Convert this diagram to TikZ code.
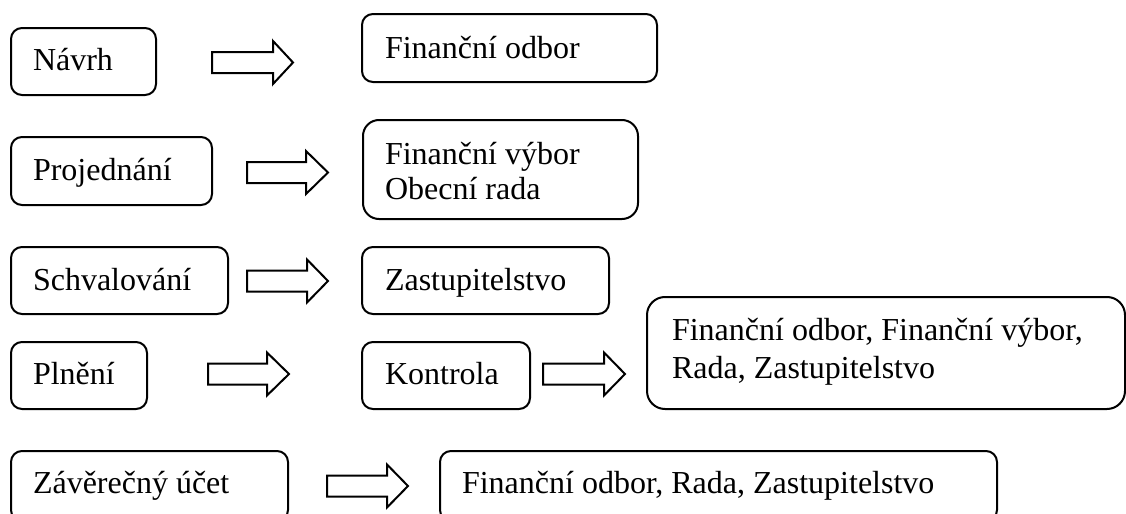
\documentclass[tikz,border=0pt]{standalone}
\usepackage{fontspec}
\setmainfont{Liberation Serif}
\begin{document}
\begin{tikzpicture}[x=0.5pt,y=-0.5pt,
  boxshape/.style={draw, line width=1pt, inner sep=0pt, outer sep=0pt, anchor=north west},
  lbl/.style={inner sep=0pt, outer sep=0pt, anchor=base west, font=\fontsize{16pt}{17.5pt}\selectfont},
  arrowshape/.style={draw, line width=1pt, line join=miter}]
\useasboundingbox (0,0) rectangle (1126,514);
\clip (0,0) rectangle (1126,514);
\newcommand\boxnode[6]{%
  \node[boxshape, minimum width={(#4-#2)*0.5pt}, minimum height={(#5-#3)*0.5pt}, rounded corners=#6] (#1) at (#2,#3) {};}
\newcommand\blockarr[5]{%
  \coordinate (#1) at (#2,#5);
  \draw[arrowshape] (#2,#5-10.5) -- (#3,#5-10.5) -- (#3,#5-21.5) -- (#4,#5) -- (#3,#5+21.5) -- (#3,#5+10.5) -- (#2,#5+10.5) -- cycle;}
% boxes
\boxnode{b1}{11}{28}{156}{95}{5.5pt}
\boxnode{b2}{362}{14}{657}{82}{5.5pt}
\boxnode{b3}{11}{137}{212}{205}{5.5pt}
\boxnode{b4}{363}{120}{638}{219}{8pt}
\boxnode{b5}{11}{247}{228}{314}{5.5pt}
\boxnode{b6}{362}{247}{609}{314}{5.5pt}
\boxnode{b7}{11}{342}{147}{409}{5.5pt}
\boxnode{b8}{362}{342}{530}{409}{5.5pt}
\boxnode{b9}{647}{297}{1125}{409}{9pt}
\boxnode{b10}{11}{451}{288}{521}{5.5pt}
\boxnode{b11}{440}{451}{997}{521}{5.5pt}
% arrows
\blockarr{a1}{212}{273}{293}{62.5}
\blockarr{a2}{247}{306}{328}{172.5}
\blockarr{a3}{247}{307}{328}{281}
\blockarr{a4}{208}{267}{289}{374}
\blockarr{a5}{543}{604}{625}{374}
\blockarr{a6}{327}{387}{408}{486}
% texts
\node[lbl] (t1) at (33,70) {Návrh};
\node[lbl] (t2) at (385,58) {Finanční odbor};
\node[lbl] (t3) at (33,180) {Projednání};
\node[lbl] (t4a) at (385,164) {Finanční výbor};
\node[lbl] (t4b) at (385,199) {Obecní rada};
\node[lbl] (t5) at (33,290) {Schvalování};
\node[lbl] (t6) at (385,290) {Zastupitelstvo};
\node[lbl] (t7) at (33,384) {Plnění};
\node[lbl] (t8) at (385,384) {Kontrola};
\node[lbl] (t9a) at (672,340) {Finanční odbor, Finanční výbor,};
\node[lbl] (t9b) at (672,378) {Rada, Zastupitelstvo};
\node[lbl] (t10) at (33,493) {Závěrečný účet};
\node[lbl] (t11) at (462,493) {Finanční odbor, Rada, Zastupitelstvo};
\end{tikzpicture}
\end{document}
